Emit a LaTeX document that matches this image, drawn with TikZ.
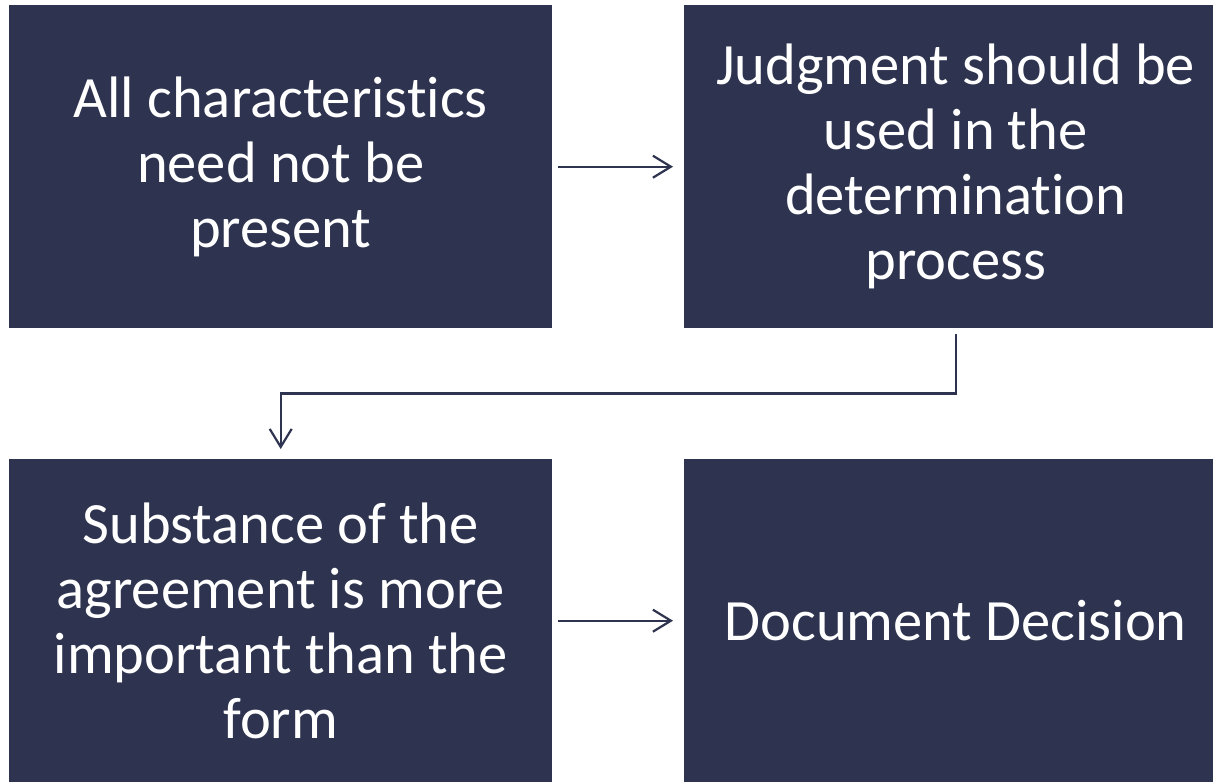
\documentclass[tikz,border=0pt]{standalone}
\usepackage{fontspec}
\setmainfont{Carlito}[Ligatures=NoCommon]
\usetikzlibrary{arrows.meta}
\definecolor{navy}{RGB}{46,52,80}
\begin{document}
\begin{tikzpicture}[x=1pt, y=-1pt,
  box/.style={fill=navy, draw=none, minimum width=543pt, minimum height=323pt,
    inner sep=0pt, anchor=north west, text=white, align=center,
    font=\fontsize{58.5}{65}\selectfont},
  link/.style={draw=navy, line width=2.2pt,
    -{Straight Barb[length=18pt, width=22pt, line width=2.2pt]}}]
  \useasboundingbox (0,0) rectangle (1213,782);
  \clip (0,0) rectangle (1213,782);
  \node[box] (a) at (9,5)   {All characteristics\\need not be\\present};
  \node[box] (b) at (684,5) {Judgment should be\\used in the\\determination\\process};
  \node[box] (c) at (9,459) {Substance of the\\agreement is more\\important than the\\form};
  \node[box] (d) at (684,459) {Document Decision};
  \draw[link, shorten <=6pt, shorten >=11pt] (a.east) -- (b.west);
  \draw[link, shorten <=6pt, shorten >=11pt] (c.east) -- (d.west);
  \draw[link, shorten <=6pt, shorten >=10pt] (b.south) -- ++(0,65) -| (c.north);
\end{tikzpicture}
\end{document}
